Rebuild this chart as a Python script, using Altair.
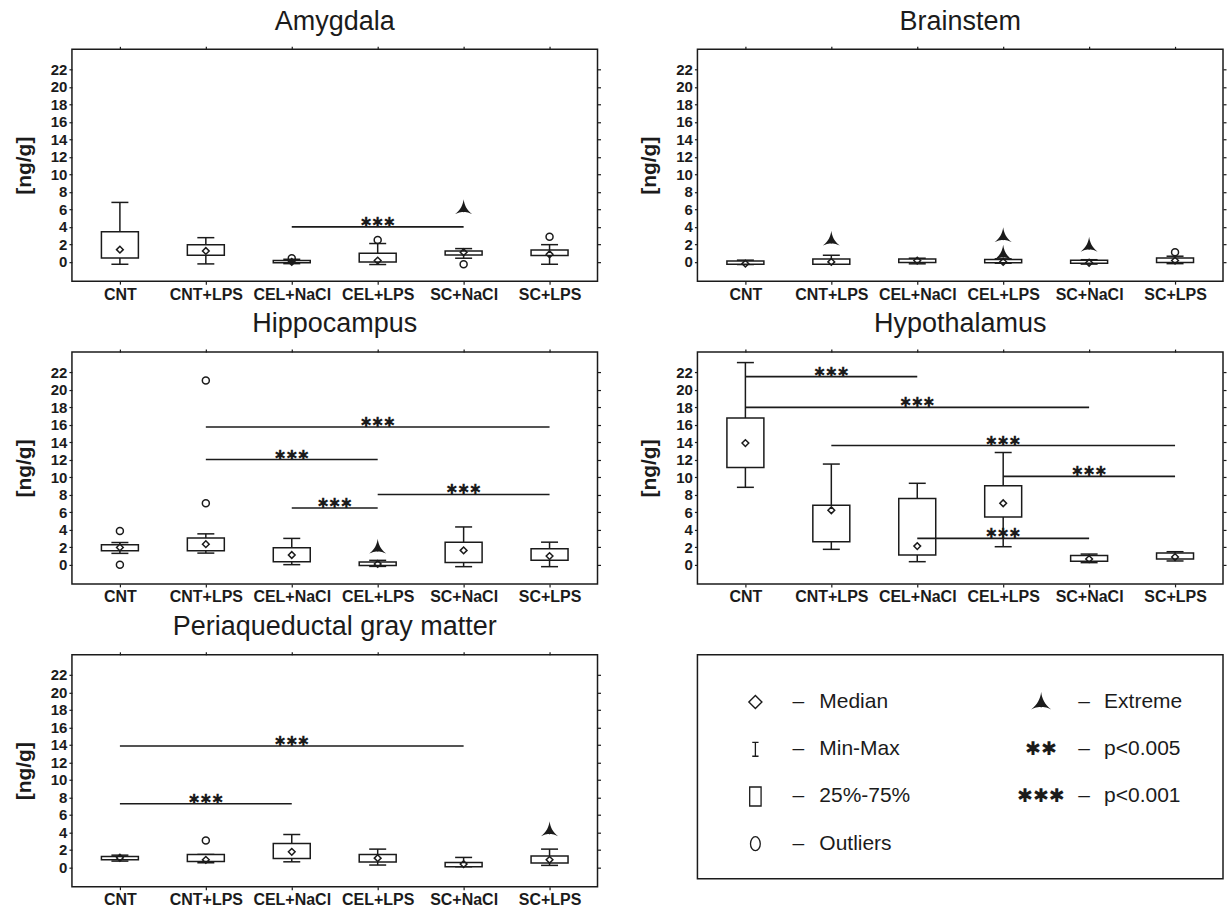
import altair as alt
import pandas as pd

groups = ["CNT", "CNT+LPS", "CEL+NaCl", "CEL+LPS", "SC+NaCl", "SC+LPS"]
y_ticks = [0, 2, 4, 6, 8, 10, 12, 14, 16, 18, 20, 22]

# ---------- Amygdala ----------
amy_min = [-0.27, -0.23, -0.2, -0.3, 0.42, -0.27]
amy_q1 = [0.45, 0.76, -0.1, 0.0, 0.8, 0.72]
amy_med = [1.4, 1.25, 0.0, 0.15, 1.1, 0.87]
amy_q3 = [3.45, 1.97, 0.15, 1.0, 1.25, 1.37]
amy_max = [6.8, 2.77, 0.3, 2.1, 1.52, 1.97]
amy_outliers = [("CEL+NaCl", 0.42), ("CEL+LPS", 2.5), ("SC+NaCl", -0.27), ("SC+LPS", 2.88)]
amy_extremes = [("SC+NaCl", 6.2)]
amy_sig = [("CEL+NaCl", "SC+NaCl", 4.0)]

# ---------- Brainstem ----------
bra_min = [-0.3, -0.27, -0.22, -0.15, -0.25, -0.2]
bra_q1 = [-0.27, -0.27, -0.08, -0.1, -0.15, -0.08]
bra_med = [-0.2, 0.0, 0.15, 0.0, -0.1, 0.15]
bra_q3 = [0.1, 0.34, 0.34, 0.27, 0.2, 0.45]
bra_max = [0.2, 0.76, 0.42, 0.35, 0.25, 0.65]
bra_outliers = [("SC+LPS", 1.1)]
bra_extremes = [("CNT+LPS", 2.6), ("CEL+LPS", 3.0), ("CEL+LPS", 1.0), ("SC+NaCl", 1.9)]
bra_sig = []

# ---------- Hippocampus ----------
hip_min = [1.29, 1.32, 0.0, -0.2, -0.23, -0.23]
hip_q1 = [1.59, 1.59, 0.34, -0.11, 0.26, 0.49]
hip_med = [1.97, 2.34, 1.1, 0.08, 1.63, 0.98]
hip_q3 = [2.27, 3.06, 1.93, 0.3, 2.57, 1.81]
hip_max = [2.53, 3.52, 3.0, 0.49, 4.31, 2.57]
hip_outliers = [("CNT", 3.86), ("CNT", 0.0), ("CNT+LPS", 21.06), ("CNT+LPS", 7.03)]
hip_extremes = [("CEL+LPS", 2.0)]
hip_sig = [("CNT+LPS", "SC+LPS", 15.73), ("CNT+LPS", "CEL+LPS", 12.02),
           ("CEL+NaCl", "CEL+LPS", 6.47), ("CEL+LPS", "SC+LPS", 8.02)]

# ---------- Hypothalamus ----------
hyp_min = [8.84, 1.75, 0.34, 2.05, 0.23, 0.42]
hyp_q1 = [11.1, 2.62, 1.1, 5.46, 0.38, 0.64]
hyp_med = [13.9, 6.22, 2.12, 7.02, 0.64, 0.87]
hyp_q3 = [16.77, 6.8, 7.55, 9.03, 1.06, 1.33]
hyp_max = [23.1, 11.5, 9.3, 12.82, 1.21, 1.48]
hyp_outliers = []
hyp_extremes = []
hyp_sig = [("CNT", "CEL+NaCl", 21.5), ("CNT", "SC+NaCl", 17.98), ("CNT+LPS", "SC+LPS", 13.62),
           ("CEL+LPS", "SC+LPS", 10.09), ("CEL+NaCl", "SC+NaCl", 3.0)]

# ---------- Periaqueductal gray matter ----------
pag_min = [0.72, 0.53, 0.64, 0.27, 0.08, 0.23]
pag_q1 = [0.87, 0.68, 1.02, 0.61, 0.08, 0.49]
pag_med = [1.1, 0.87, 1.78, 1.06, 0.38, 0.87]
pag_q3 = [1.25, 1.48, 2.73, 1.48, 0.57, 1.29]
pag_max = [1.4, 1.48, 3.76, 2.09, 1.14, 2.09]
pag_outliers = [("CNT+LPS", 3.07)]
pag_extremes = [("SC+LPS", 4.3)]
pag_sig = [("CNT", "SC+NaCl", 13.88), ("CNT", "CEL+NaCl", 7.28)]

# ---------- legend ----------
leg_left = ["Median", "Min-Max", "25%-75%", "Outliers"]
leg_right = ["Extreme", "p<0.005", "p<0.001"]
leg_stars = ["✱✱", "✱✱✱"]

INK = "#1b1b1b"
FONT = "Liberation Sans"
STAR_FONT = "DejaVu Sans"
EXTREME = ("M0,-1 C0.08,-0.35 0.35,0.25 1,0.75 C0.45,0.5 0.15,0.45 0,0.55 "
           "C-0.15,0.45 -0.45,0.5 -1,0.75 C-0.35,0.25 -0.08,-0.35 0,-1 Z")
W, H = 526, 232

label_expr = "[" + ",".join("'%s'" % g for g in groups) + "][datum.value]"
xs = alt.Scale(domain=[-0.5, 5.5], nice=False, zero=False)
ys = alt.Scale(domain=[-2.2, 24.3], nice=False, zero=False)


def panel(title, wmin, q1, med, q3, wmax, outliers, extremes, sig):
    df = pd.DataFrame({"i": list(range(len(groups))), "wmin": wmin, "q1": q1,
                       "med": med, "q3": q3, "wmax": wmax})
    base = alt.Chart(df)
    x_none = alt.X("i:Q", scale=xs, axis=None)

    whisk = base.mark_rule(color=INK, strokeWidth=1.5).encode(
        x=alt.X("i:Q", scale=xs, axis=alt.Axis(orient="top", labels=False, title=None,
                                                 values=list(range(6)))),
        y=alt.Y("wmin:Q", scale=ys, axis=alt.Axis(orient="right", labels=False, title=None,
                                                    values=y_ticks)),
        y2="wmax:Q",
    )
    caps = base.transform_fold(["wmin", "wmax"], as_=["k", "v"]).mark_tick(
        color=INK, size=17, thickness=1.5, orient="horizontal", opacity=1
    ).encode(x=x_none, y=alt.Y("v:Q", scale=ys, axis=None))
    boxes = base.mark_bar(size=37, fill="white", stroke=INK, strokeWidth=1.5,
                          orient="vertical").encode(
        x=alt.X("i:Q", scale=xs, axis=alt.Axis(orient="bottom", values=list(range(6)),
                                                 labelExpr=label_expr, title=None)),
        y=alt.Y("q1:Q", scale=ys, axis=alt.Axis(orient="left", values=y_ticks, title="[ng/g]")),
        y2="q3:Q",
    )
    meds = base.mark_point(shape="diamond", filled=False, size=45, strokeWidth=1.5,
                           color=INK, opacity=1).encode(
        x=x_none, y=alt.Y("med:Q", scale=ys, axis=None))
    layers = [whisk, caps, boxes, meds]

    if outliers:
        odf = pd.DataFrame({"i": [groups.index(g) for g, v in outliers],
                            "v": [v for g, v in outliers]})
        layers.append(alt.Chart(odf).mark_point(shape="circle", filled=False, size=49,
                                                strokeWidth=1.5, color=INK, opacity=1).encode(
            x=x_none, y=alt.Y("v:Q", scale=ys, axis=None)))
    if extremes:
        edf = pd.DataFrame({"i": [groups.index(g) for g, v in extremes],
                            "v": [v for g, v in extremes]})
        layers.append(alt.Chart(edf).mark_point(shape=EXTREME, filled=True, size=289,
                                                color=INK, opacity=1).encode(
            x=x_none, y=alt.Y("v:Q", scale=ys, axis=None)))
    if sig:
        sdf = pd.DataFrame({"a": [groups.index(s[0]) for s in sig],
                            "b": [groups.index(s[1]) for s in sig],
                            "y": [s[2] for s in sig]})
        sb = alt.Chart(sdf)
        layers.append(sb.mark_rule(color=INK, strokeWidth=1.6).encode(
            x=alt.X("a:Q", scale=xs, axis=None), x2="b:Q",
            y=alt.Y("y:Q", scale=ys, axis=None)))
        layers.append(sb.transform_calculate(m="(datum.a + datum.b) / 2").mark_text(
            text="✱✱✱", font=STAR_FONT, fontSize=14, fontWeight="bold", color=INK,
            baseline="alphabetic", dy=0).encode(
            x=alt.X("m:Q", scale=xs, axis=None), y=alt.Y("y:Q", scale=ys, axis=None)))

    return alt.layer(*layers).resolve_axis(x="independent", y="independent").properties(
        width=W, height=H,
        title=alt.TitleParams(title, fontSize=27, font=FONT, fontWeight="normal",
                              color=INK, offset=10))


def legend_panel():
    yscale = alt.Scale(domain=[-1.0, 3.74], reverse=True, nice=False, zero=False)
    yenc = alt.Y("row:Q", scale=yscale, axis=None)
    ldf = pd.DataFrame({"row": list(range(len(leg_left))), "label": leg_left})
    rdf = pd.DataFrame({"row": list(range(len(leg_right))), "label": leg_right})
    sdf = pd.DataFrame({"row": [1, 2], "label": leg_stars})

    def sym(row, shape, size, filled, xpx, sw=1.4):
        return alt.Chart(pd.DataFrame({"row": [row]})).mark_point(
            shape=shape, size=size, filled=filled, strokeWidth=sw, color=INK, opacity=1
        ).encode(x=alt.value(xpx), y=yenc)

    txt = dict(font=FONT, fontSize=21, color=INK, baseline="middle")
    layers = [
        sym(0, "diamond", 170, False, 58),
        sym(1, "M-0.45,-1 L0.45,-1 M0,-1 L0,1 M-0.45,1 L0.45,1", 196, False, 58, 1.3),
        sym(2, "M-0.6,-1 L0.6,-1 L0.6,1 L-0.6,1 Z", 361, False, 58, 1.3),
        sym(3, "M0,-1 A0.7,1 0 1,1 0,1 A0.7,1 0 1,1 0,-1 Z", 196, False, 58, 1.3),
        sym(0, EXTREME, 400, True, 344),
        alt.Chart(ldf).mark_text(align="center", text="–", **txt).encode(
            x=alt.value(101), y=yenc),
        alt.Chart(ldf).mark_text(align="left", **txt).encode(
            x=alt.value(122), y=yenc, text="label:N"),
        alt.Chart(rdf).mark_text(align="center", text="–", **txt).encode(
            x=alt.value(387), y=yenc),
        alt.Chart(rdf).mark_text(align="left", **txt).encode(
            x=alt.value(407), y=yenc, text="label:N"),
        alt.Chart(sdf).mark_text(align="center", font=STAR_FONT, fontSize=19,
                                 fontWeight="bold", color=INK, baseline="middle").encode(
            x=alt.value(344), y=yenc, text="label:N"),
    ]
    return alt.layer(*layers).properties(width=W, height=224)


amy = panel("Amygdala", amy_min, amy_q1, amy_med, amy_q3, amy_max, amy_outliers, amy_extremes, amy_sig)
bra = panel("Brainstem", bra_min, bra_q1, bra_med, bra_q3, bra_max, bra_outliers, bra_extremes, bra_sig)
hip = panel("Hippocampus", hip_min, hip_q1, hip_med, hip_q3, hip_max, hip_outliers, hip_extremes, hip_sig)
hyp = panel("Hypothalamus", hyp_min, hyp_q1, hyp_med, hyp_q3, hyp_max, hyp_outliers, hyp_extremes, hyp_sig)
pag = panel("Periaqueductal gray matter", pag_min, pag_q1, pag_med, pag_q3, pag_max,
            pag_outliers, pag_extremes, pag_sig)
leg = legend_panel()

chart = alt.concat(amy, bra, hip, hyp, pag, leg, columns=2,
                   spacing={"row": 71, "column": 100}, bounds="flush").properties(
    padding={"left": 12, "top": 6, "right": 2, "bottom": 0}
).configure_view(
    stroke=INK, strokeWidth=1.5
).configure_axis(
    labelFont=FONT, labelFontSize=15, labelFontWeight="bold", labelColor=INK,
    tickColor=INK, tickSize=3, tickWidth=1.2, domain=False, grid=False,
    titleFont=FONT, titleFontSize=21, titleFontWeight="bold", titleColor=INK,
    labelPadding=2, titlePadding=16
).configure_axisBottom(labelFontSize=16, labelPadding=2)

chart.save("out.html", embed_options={"renderer": "svg", "actions": False})
